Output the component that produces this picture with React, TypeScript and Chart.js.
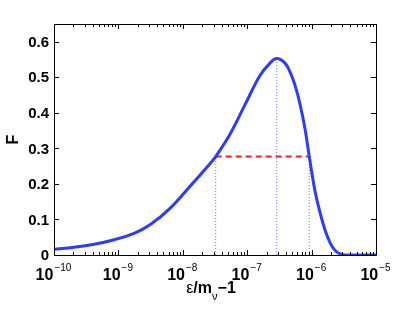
import React, { useEffect, useRef } from "react";
import { Chart, registerables } from "chart.js";

Chart.register(...registerables);

const xValues = [1e-10, 2.05e-10, 4.18e-10, 8.55e-10, 1.75e-9, 3.1e-9, 6.33e-9, 1.29e-8, 2.64e-8, 3.24e-8, 5.4e-8, 9.25e-8, 1.58e-7, 2.26e-7, 2.87e-7, 3.86e-7, 4.62e-7, 5.52e-7, 6.6e-7, 7.9e-7, 9.2e-7, 1.13e-6, 1.35e-6, 1.61e-6, 1.93e-6, 2.31e-6, 2.76e-6, 3.42e-6, 1e-5];
const fValues = [0.016, 0.022, 0.03, 0.043, 0.061, 0.085, 0.131, 0.193, 0.257, 0.277, 0.34, 0.423, 0.505, 0.54, 0.553, 0.54, 0.515, 0.478, 0.425, 0.355, 0.277, 0.18, 0.12, 0.071, 0.035, 0.013, 0.003, 0, 0];

const peakX = 2.87e-7;
const peakF = 0.553;
const halfLeftX = 3.24e-8;
const halfRightX = 9.2e-7;
const halfF = 0.277;

const yTicks = [0, 0.1, 0.2, 0.3, 0.4, 0.5, 0.6];
const xExponents = [-10, -9, -8, -7, -6, -5];
const yTitle = "F";

const FONT = '"Liberation Sans", Arial, Helvetica, sans-serif';

const framePlugin = {
  id: "matlabFrame",
  afterDatasetsDraw(chart: any) {
    const { ctx, chartArea: a, scales } = chart;
    const xs = scales.x;
    const ys = scales.y;
    ctx.save();
    ctx.strokeStyle = "#000";
    ctx.lineWidth = 1;
    ctx.beginPath();
    ctx.rect(Math.round(a.left) + 0.5, Math.round(a.top) + 0.5, Math.round(a.right - a.left), Math.round(a.bottom - a.top));
    ctx.stroke();
    ctx.beginPath();
    for (let e = -10; e <= -5; e++) {
      for (let m = 1; m <= 9; m++) {
        if (e === -5 && m > 1) break;
        const v = m * Math.pow(10, e);
        const px = Math.round(xs.getPixelForValue(v)) + 0.5;
        const len = m === 1 ? 5 : 3;
        ctx.moveTo(px, a.bottom);
        ctx.lineTo(px, a.bottom - len);
        ctx.moveTo(px, a.top);
        ctx.lineTo(px, a.top + len);
      }
    }
    for (const t of yTicks) {
      const py = Math.round(ys.getPixelForValue(t)) + 0.5;
      ctx.moveTo(a.left, py);
      ctx.lineTo(a.left + 5, py);
      ctx.moveTo(a.right, py);
      ctx.lineTo(a.right - 5, py);
    }
    ctx.stroke();

    ctx.fillStyle = "#000";
    ctx.font = `bold 15px ${FONT}`;
    ctx.textAlign = "right";
    ctx.textBaseline = "middle";
    for (const t of yTicks) {
      const py = ys.getPixelForValue(t);
      ctx.fillText(t === 0 ? "0" : t.toFixed(1), a.left - 5, py + 1);
    }
    ctx.textBaseline = "alphabetic";
    ctx.textAlign = "left";
    for (const e of xExponents) {
      const px = xs.getPixelForValue(Math.pow(10, e));
      const base = "10";
      const sup = "\u2212" + String(-e);
      ctx.font = `bold 16px ${FONT}`;
      const wb = ctx.measureText(base).width;
      ctx.font = `10px ${FONT}`;
      const ws = ctx.measureText(sup).width;
      const start = px - (wb + ws) / 2 - 1;
      ctx.font = `bold 16px ${FONT}`;
      ctx.fillText(base, start, a.bottom + 25);
      ctx.font = `10px ${FONT}`;
      ctx.fillText(sup, start + wb + 1, a.bottom + 16);
    }
    const parts = [
      { t: "\u03b5", f: `16px ${FONT}`, dy: 0 },
      { t: "/m", f: `bold 16px ${FONT}`, dy: 0 },
      { t: "\u03bd", f: `11px ${FONT}`, dy: 7 },
      { t: "\u22121", f: `bold 16px ${FONT}`, dy: 0 },
    ];
    let total = 0;
    const widths: number[] = [];
    for (const p of parts) {
      ctx.font = p.f;
      const w = ctx.measureText(p.t).width;
      widths.push(w);
      total += w;
    }
    let cx = (a.left + a.right) / 2 - 4 - total / 2;
    const by = a.bottom + 38;
    parts.forEach((p, i) => {
      ctx.font = p.f;
      ctx.fillText(p.t, cx, by + p.dy);
      cx += widths[i];
    });
    ctx.save();
    ctx.translate(18, (a.top + a.bottom) / 2);
    ctx.rotate(-Math.PI / 2);
    ctx.textAlign = "center";
    ctx.font = `bold 16px ${FONT}`;
    ctx.fillText(yTitle, 0, 0);
    ctx.restore();
    ctx.restore();
  },
};

export default function App() {
  const ref = useRef<HTMLCanvasElement>(null);
  useEffect(() => {
    if (!ref.current) return;
    const curve = xValues.map((x, i) => ({ x, y: fValues[i] }));
    const dotted = "rgba(90,110,255,0.9)";
    const chart = new Chart(ref.current, {
      type: "line",
      data: {
        datasets: [
          {
            data: curve,
            borderColor: "#2a3cff",
            borderWidth: 3,
            pointRadius: 0,
            tension: 0.4,
            fill: false,
          },
          {
            data: [{ x: halfLeftX, y: halfF }, { x: halfRightX, y: halfF }],
            borderColor: "#ff1a1a",
            borderWidth: 2,
            borderDash: [6, 4],
            pointRadius: 0,
          },
          {
            data: [{ x: halfLeftX, y: 0 }, { x: halfLeftX, y: halfF }],
            borderColor: dotted,
            borderWidth: 1,
            borderDash: [1, 2],
            pointRadius: 0,
          },
          {
            data: [{ x: peakX, y: 0 }, { x: peakX, y: peakF }],
            borderColor: dotted,
            borderWidth: 1,
            borderDash: [1, 2],
            pointRadius: 0,
          },
          {
            data: [{ x: halfRightX, y: 0 }, { x: halfRightX, y: halfF }],
            borderColor: dotted,
            borderWidth: 1,
            borderDash: [1, 2],
            pointRadius: 0,
          },
        ],
      } as any,
      options: {
        animation: false,
        responsive: false,
        layout: { padding: { top: 24, right: 39, left: 0, bottom: 0 } },
        plugins: { legend: { display: false }, tooltip: { enabled: false } },
        scales: {
          x: {
            type: "logarithmic",
            min: 1e-10,
            max: 1e-5,
            ticks: { display: false },
            grid: { display: false },
            border: { display: false },
            afterFit: (s: any) => { s.height = 58; },
          },
          y: {
            type: "linear",
            min: 0,
            max: 0.65,
            ticks: { display: false },
            grid: { display: false },
            border: { display: false },
            afterFit: (s: any) => { s.width = 54; },
          },
        },
      } as any,
      plugins: [framePlugin],
    });
    return () => chart.destroy();
  }, []);
  return (
    <div style={{ position: "absolute", left: 0, top: 0, width: 415, height: 313, background: "#fff" }}>
      <canvas ref={ref} width={415} height={313} />
    </div>
  );
}
